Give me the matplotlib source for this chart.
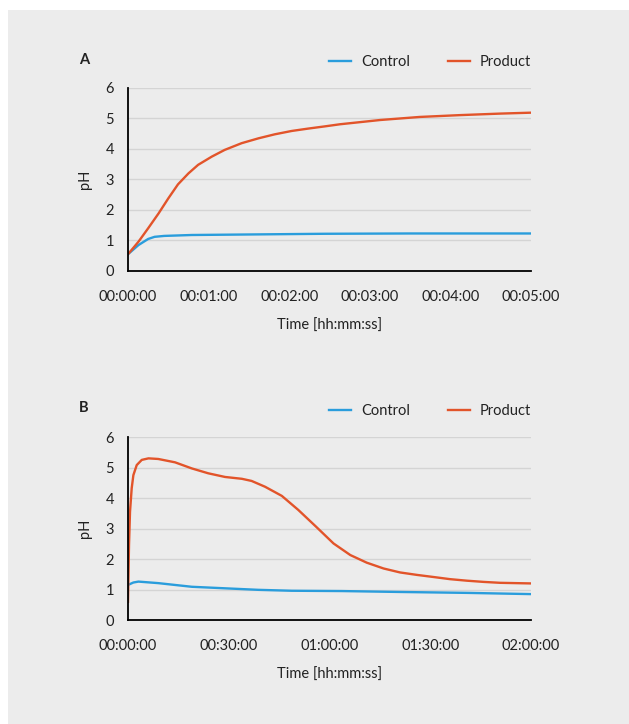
import matplotlib
matplotlib.use("Agg")
import matplotlib.pyplot as plt
from matplotlib.patches import Rectangle

plt.rcParams['font.family'] = ['Lato', 'DejaVu Sans']

BLUE = '#2a9ddc'
ORANGE = '#e2542a'
TEXT = '#222222'

# Panel A: time in minutes
a_time_prod = [0, 0.13, 0.25, 0.38, 0.50, 0.62, 0.75, 0.87, 1.04, 1.20, 1.41, 1.62,
               1.82, 2.03, 2.24, 2.44, 2.63, 3.13, 3.62, 4.12, 4.62, 5.0]
a_prod = [0.55, 0.96, 1.40, 1.89, 2.38, 2.84, 3.20, 3.48, 3.75, 3.97, 4.19, 4.35,
          4.48, 4.59, 4.67, 4.74, 4.81, 4.95, 5.05, 5.11, 5.16, 5.19]
a_time_ctrl = [0, 0.13, 0.25, 0.33, 0.45, 0.79, 1.62, 2.44, 3.5, 5.0]
a_ctrl = [0.55, 0.85, 1.05, 1.12, 1.15, 1.18, 1.20, 1.22, 1.23, 1.23]
a_ticks = [0, 1, 2, 3, 4, 5]
a_labels = ['00:00:00', '00:01:00', '00:02:00', '00:03:00', '00:04:00', '00:05:00']

# Panel B: time in minutes
b_time_prod = [0, 0.3, 0.6, 1.1, 1.6, 2.6, 4.1, 6.1, 9.0, 14.0, 19.0, 23.9, 28.9, 33.9,
               36.8, 40.8, 45.8, 50.7, 56.0, 61.2, 66.2, 71.1, 76.1, 81.0, 86.0, 91.0,
               95.9, 100.9, 105.9, 110.8, 120]
b_prod = [0.6, 2.46, 3.55, 4.32, 4.75, 5.08, 5.25, 5.30, 5.28, 5.17, 4.97, 4.81, 4.69, 4.63,
          4.56, 4.37, 4.07, 3.61, 3.06, 2.51, 2.13, 1.88, 1.69, 1.56, 1.48, 1.41,
          1.34, 1.29, 1.25, 1.22, 1.20]
b_time_ctrl = [0, 1.6, 3.1, 9.0, 19.0, 28.9, 38.8, 48.7, 63.6, 81.0, 101.0, 120]
b_ctrl = [1.15, 1.23, 1.26, 1.21, 1.09, 1.04, 0.99, 0.96, 0.95, 0.92, 0.89, 0.85]
b_ticks = [0, 30, 60, 90, 120]
b_labels = ['00:00:00', '00:30:00', '01:00:00', '01:30:00', '02:00:00']

y_ticks = [0, 1, 2, 3, 4, 5, 6]


def style_axes(ax, ticks, labels, xmax):
    ax.set_facecolor('none')
    ax.set_xlim(0, xmax)
    ax.set_ylim(0, 6)
    ax.set_yticks(y_ticks)
    ax.set_xticks(ticks)
    ax.set_xticklabels(labels)
    ax.grid(axis='y', color='#d4d4d4', linewidth=1)
    ax.set_axisbelow(True)
    for side in ['top', 'right']:
        ax.spines[side].set_visible(False)
    for side in ['left', 'bottom']:
        ax.spines[side].set_color('black')
        ax.spines[side].set_linewidth(1.3)
    ax.tick_params(length=0, labelsize=10.5, labelcolor=TEXT)
    ax.tick_params(axis='x', pad=14)
    ax.tick_params(axis='y', pad=10)
    ax.set_xlabel('Time [hh:mm:ss]', fontsize=10.5, color=TEXT, labelpad=10)
    ax.set_ylabel('pH', fontsize=10.5, color=TEXT, labelpad=10)
    ax.legend(ncol=2, loc='lower right', bbox_to_anchor=(1.0, 1.105), frameon=False,
              fontsize=10.5, handlelength=1.5, columnspacing=2.6, handletextpad=0.7,
              labelcolor=TEXT, borderaxespad=0, borderpad=0)


fig = plt.figure(figsize=(6.29, 7.24), dpi=100)
fig.patch.set_facecolor('white')
fig.patches.append(Rectangle((8 / 629, 0), 1, 1 - 10 / 724, transform=fig.transFigure,
                             facecolor='#ececec', edgecolor='none', zorder=-10))

ax1 = fig.add_axes([0.2035, 0.6257, 0.6407, 0.2528])
ax1.plot(a_time_ctrl, a_ctrl, color=BLUE, lw=1.7, label='Control')
ax1.plot(a_time_prod, a_prod, color=ORANGE, lw=1.7, label='Product')
style_axes(ax1, a_ticks, a_labels, 5)
fig.text(84 / 629, 1 - 60 / 724, 'A', fontsize=10.5, fontweight='bold', color=TEXT,
         ha='center', va='center')

ax2 = fig.add_axes([0.2035, 0.1436, 0.6407, 0.2528])
ax2.plot(b_time_ctrl, b_ctrl, color=BLUE, lw=1.7, label='Control')
ax2.plot(b_time_prod, b_prod, color=ORANGE, lw=1.7, label='Product')
style_axes(ax2, b_ticks, b_labels, 120)
fig.text(84 / 629, 1 - 408 / 724, 'B', fontsize=10.5, fontweight='bold', color=TEXT,
         ha='center', va='center')

fig.savefig('out.png', dpi=100)
